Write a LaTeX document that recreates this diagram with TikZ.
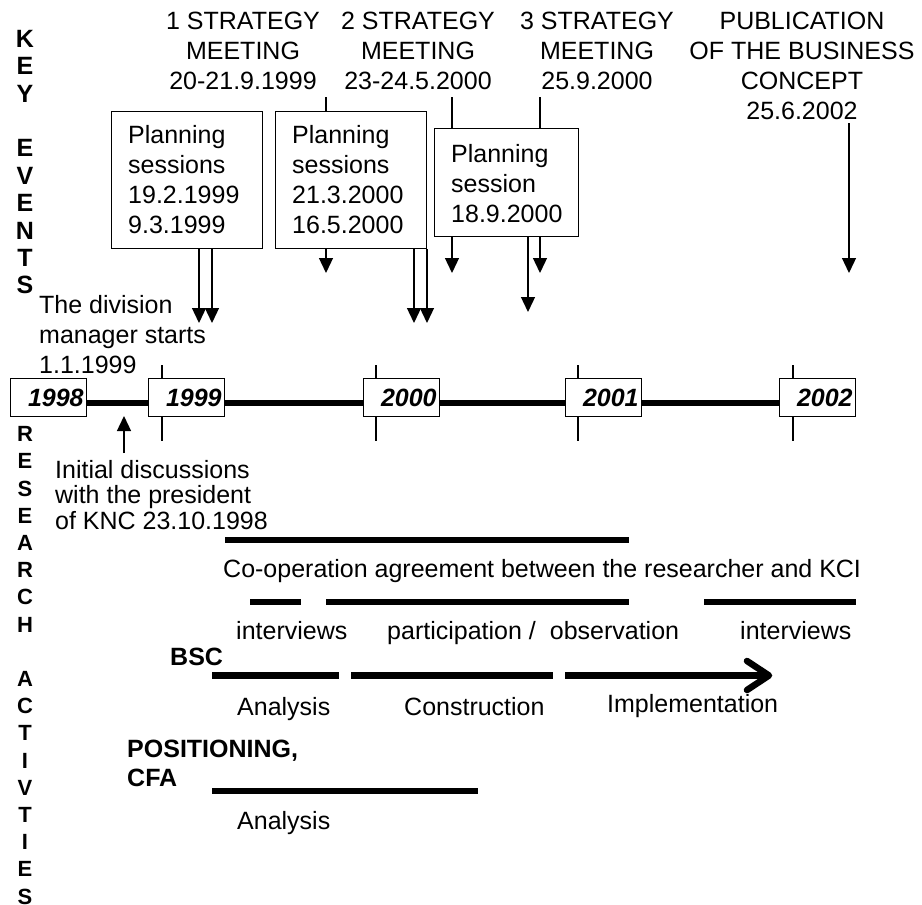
\documentclass[tikz,border=0pt]{standalone}
\usepackage{fontspec}
\setmainfont{Liberation Sans}
\usetikzlibrary{arrows.meta}
% stacked lines with the first line's baseline as the box baseline
\newcommand\stackl[2]{\begin{tabular}[t]{@{}#1@{}}#2\end{tabular}}
\begin{document}
\begin{tikzpicture}[x=1pt,y=-1pt,
  lbl/.style={inner sep=0pt, font=\fontsize{25}{30}\selectfont},
  blbl/.style={inner sep=0pt, font=\fontsize{25}{29}\selectfont\bfseries},
  vletters/.style={inner sep=0pt, anchor=base},
  sbox/.style={draw, line width=1.3pt, anchor=north west, inner sep=0pt},
  thinline/.style={line width=1.3pt},
  evarrow/.style={line width=1.3pt, -{Triangle[width=14pt,length=15pt]}},
  yearbox/.style={draw, fill=white, line width=1.3pt, anchor=north west,
    minimum height=38pt, text width=70pt, inner xsep=3pt, inner ysep=0pt,
    align=right, font=\fontsize{25}{30}\selectfont\bfseries\itshape},
  timeline/.style={line width=6pt},
  bar/.style={line width=6.5pt}
]
\useasboundingbox (0,0) rectangle (922,905);

% ---- side headings
\node[vletters, font=\fontsize{25}{27.4}\selectfont\bfseries] (keyev) at (25,47.3)
  {\stackl{c}{K\\E\\Y\\\\E\\V\\E\\N\\T\\S}};
\node[vletters, font=\fontsize{22}{27.2}\selectfont\bfseries] (resact) at (25,441.7)
  {\stackl{c}{R\\E\\S\\E\\A\\R\\C\\H\\\\A\\C\\T\\I\\V\\T\\I\\E\\S}};

% ---- key events
\node[lbl, anchor=base] (meet1) at (243,29) {\stackl{c}{1 STRATEGY\\MEETING\\20-21.9.1999}};
\node[lbl, anchor=base] (meet2) at (418,29) {\stackl{c}{2 STRATEGY\\MEETING\\23-24.5.2000}};
\node[lbl, anchor=base] (meet3) at (597,29) {\stackl{c}{3 STRATEGY\\MEETING\\25.9.2000}};
\node[lbl, anchor=base] (pub) at (802,29) {\stackl{c}{PUBLICATION\\OF THE BUSINESS\\CONCEPT\\25.6.2002}};

\node[sbox, minimum width=151pt, minimum height=137pt] (ps1) at (111,111) {};
\node[sbox, minimum width=151pt, minimum height=137pt] (ps2) at (275,111) {};
\node[sbox, minimum width=144pt, minimum height=108pt] (ps3) at (434,128) {};
\node[lbl, anchor=base west] (ps1t) at (128,143) {\stackl{l}{Planning\\sessions\\19.2.1999\\9.3.1999}};
\node[lbl, anchor=base west] (ps2t) at (292,143) {\stackl{l}{Planning\\sessions\\21.3.2000\\16.5.2000}};
\node[lbl, anchor=base west] (ps3t) at (451,162) {\stackl{l}{Planning\\session\\18.9.2000}};

% strategy meetings and publication
\coordinate (m1top) at (326,97);  \coordinate (m1tip) at (326,273);
\coordinate (m2top) at (452,97);  \coordinate (m2tip) at (452,273);
\coordinate (m3top) at (540,97);  \coordinate (m3tip) at (540,273);
\coordinate (pubtop) at (849,123); \coordinate (pubtip) at (849,273);
\draw[thinline] (m1top) -- (m1top |- ps2.north);
\draw[evarrow] (m1top |- ps2.south) -- (m1tip);
\draw[thinline] (m2top) -- (m2top |- ps3.north);
\draw[evarrow] (m2top |- ps3.south) -- (m2tip);
\draw[thinline] (m3top) -- (m3top |- ps3.north);
\draw[evarrow] (m3top |- ps3.south) -- (m3tip);
\draw[evarrow] (pubtop) -- (pubtip);

% planning sessions
\coordinate (s1a) at (199,323); \coordinate (s1b) at (212,323);
\coordinate (s2a) at (414,323); \coordinate (s2b) at (427,323);
\coordinate (s3a) at (528,312);
\draw[evarrow] (ps1.south -| s1a) -- (s1a);
\draw[evarrow] (ps1.south -| s1b) -- (s1b);
\draw[evarrow] (ps2.south -| s2a) -- (s2a);
\draw[evarrow] (ps2.south -| s2b) -- (s2b);
\draw[evarrow] (ps3.south -| s3a) -- (s3a);

\node[lbl, anchor=base west] (dm) at (39,313) {\stackl{l}{The division\\manager starts\\1.1.1999}};

% ---- time axis
\foreach \tx in {162,376,578,793} \draw[thinline] (\tx,365) -- (\tx,441);
\node[yearbox] (y1998) at (10,378) {1998};
\node[yearbox] (y1999) at (148,378) {1999};
\node[yearbox] (y2000) at (363,378) {2000};
\node[yearbox] (y2001) at (565,378) {2001};
\node[yearbox] (y2002) at (779,378) {2002};
\coordinate (tl) at (0,403);
\draw[timeline] (y1998.east |- tl) -- (y1999.west |- tl);
\draw[timeline] (y1999.east |- tl) -- (y2000.west |- tl);
\draw[timeline] (y2000.east |- tl) -- (y2001.west |- tl);
\draw[timeline] (y2001.east |- tl) -- (y2002.west |- tl);

\node[inner sep=0pt, anchor=base west, font=\fontsize{25}{25}\selectfont] (init) at (55,478)
  {\stackl{l}{Initial discussions\\with the president\\of KNC 23.10.1998}};
\coordinate (initfoot) at (124,453); \coordinate (inittip) at (124,416);
\draw[evarrow] (initfoot) -- (inittip);

% ---- research activities
\draw[bar] (225,540) -- (629,540);
\node[lbl, anchor=base west] (coop) at (223,577) {Co-operation agreement between the researcher and KCI};

\draw[bar] (250,602) -- (301,602);
\draw[bar] (326,602) -- (629,602);
\draw[bar] (704,602) -- (856,602);
\node[lbl, anchor=base west] (int1) at (236,639) {interviews};
\node[lbl, anchor=base west] (partobs) at (387,639) {participation /\hspace{14pt}observation};
\node[lbl, anchor=base west] (int2) at (740,639) {interviews};

\node[blbl, anchor=base west] (bsc) at (170,665) {BSC};
\draw[bar] (212,675.5) -- (339,675.5);
\draw[bar] (351,675.5) -- (553,675.5);
\draw[bar] (565,675.5) -- (766,675.5);
\draw[bar, line cap=round, line join=round] (747,661) -- (769,675.5) -- (747,690);
\node[lbl, anchor=base west] (bana) at (237,715) {Analysis};
\node[lbl, anchor=base west] (bcon) at (404,715) {Construction};
\node[lbl, anchor=base west] (bimp) at (607,712) {Implementation};

\node[blbl, anchor=base west] (pos) at (127,757) {\stackl{l}{POSITIONING,\\CFA}};
\draw[bar] (212,791) -- (478,791);
\node[lbl, anchor=base west] (cana) at (237,829) {Analysis};
\end{tikzpicture}
\end{document}
